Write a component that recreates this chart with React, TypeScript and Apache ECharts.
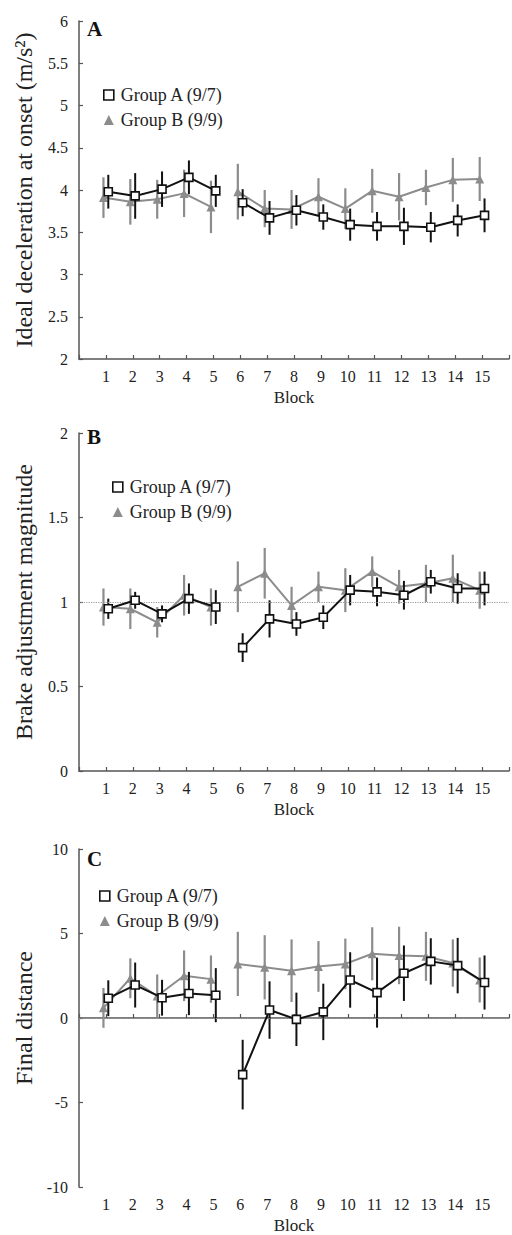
import React, { useEffect, useRef } from "react";
import * as echarts from "echarts";

const blocks = [1, 2, 3, 4, 5, 6, 7, 8, 9, 10, 11, 12, 13, 14, 15];
const sessionBreakAfter = 5;
const groupNames = ["Group A (9/7)", "Group B (9/9)"];

const accelA = [3.98, 3.93, 4.01, 4.15, 3.99, 3.85, 3.67, 3.76, 3.68, 3.59, 3.57, 3.57, 3.56, 3.64, 3.7];
const accelAErr = [0.2, 0.27, 0.21, 0.2, 0.19, 0.16, 0.2, 0.18, 0.15, 0.19, 0.17, 0.22, 0.18, 0.19, 0.2];
const accelB = [3.91, 3.86, 3.89, 3.96, 3.8, 3.98, 3.78, 3.77, 3.92, 3.78, 3.99, 3.92, 4.03, 4.12, 4.13];
const accelBErr = [0.24, 0.27, 0.23, 0.28, 0.31, 0.33, 0.22, 0.23, 0.22, 0.24, 0.26, 0.28, 0.21, 0.26, 0.26];

const brakeA = [0.96, 1.01, 0.93, 1.02, 0.97, 0.73, 0.9, 0.87, 0.91, 1.07, 1.06, 1.04, 1.12, 1.08, 1.08];
const brakeAErr = [0.06, 0.05, 0.05, 0.09, 0.1, 0.085, 0.11, 0.07, 0.07, 0.09, 0.085, 0.085, 0.07, 0.09, 0.1];
const brakeB = [0.97, 0.96, 0.88, 1.04, 0.97, 1.09, 1.17, 0.98, 1.09, 1.07, 1.18, 1.09, 1.11, 1.14, 1.07];
const brakeBErr = [0.11, 0.12, 0.09, 0.12, 0.11, 0.15, 0.15, 0.11, 0.09, 0.13, 0.09, 0.1, 0.11, 0.14, 0.11];

const distA = [1.17, 1.95, 1.2, 1.45, 1.35, -3.35, 0.47, -0.08, 0.36, 2.25, 1.5, 2.65, 3.35, 3.1, 2.1];
const distAErr = [1.06, 1.33, 1.06, 1.28, 1.6, 2.06, 1.7, 1.58, 1.67, 1.64, 2.07, 1.64, 1.37, 1.64, 1.6];
const distB = [0.6, 2.35, 1.3, 2.5, 2.3, 3.2, 3.0, 2.8, 3.05, 3.2, 3.8, 3.7, 3.65, 3.25, 2.25];
const distBErr = [1.18, 1.18, 1.28, 1.5, 1.4, 1.9, 1.9, 1.85, 1.5, 1.5, 1.57, 1.7, 1.45, 1.4, 1.33];

const FONT = "'Liberation Serif', 'Times New Roman', serif";
const BLACK = "#111111";
const GRAY = "#8c8c8c";
const AXIS = "#555555";

const panels = [
  { letter: "A", top: 21, min: 2, max: 6, interval: 0.5, name: "Ideal deceleration at onset (m/s²)", a: accelA, aErr: accelAErr, b: accelB, bErr: accelBErr, ref: null as number | null, legendLeft: 98, legendTop: 80, letterTop: 18 },
  { letter: "B", top: 433, min: 0, max: 2, interval: 0.5, name: "Brake adjustment magnitude", a: brakeA, aErr: brakeAErr, b: brakeB, bErr: brakeBErr, ref: 1, legendLeft: 107, legendTop: 472, letterTop: 426 },
  { letter: "C", top: 849, min: -10, max: 10, interval: 5, name: "Final distance", a: distA, aErr: distAErr, b: distB, bErr: distBErr, ref: 0, legendLeft: 94, legendTop: 881, letterTop: 848 },
];

function lineData(vals: number[], offset: number) {
  const out: any[] = [];
  blocks.forEach((b, i) => {
    out.push([b + offset, vals[i]]);
    if (b === sessionBreakAfter) out.push([b + 0.5, "-"]);
  });
  return out;
}

function errData(vals: number[], errs: number[], offset: number) {
  return blocks.map((b, i) => [b + offset, vals[i] - errs[i], vals[i] + errs[i]]);
}

function errSeries(idx: number, data: any[], color: string, width: number, z: number) {
  return {
    type: "custom",
    xAxisIndex: idx,
    yAxisIndex: idx,
    z,
    silent: true,
    data,
    renderItem: (params: any, api: any) => {
      const p1 = api.coord([api.value(0), api.value(1)]);
      const p2 = api.coord([api.value(0), api.value(2)]);
      return {
        type: "line",
        shape: { x1: p1[0], y1: p1[1], x2: p2[0], y2: p2[1] },
        style: { stroke: color, lineWidth: width },
      };
    },
  };
}

export default function App() {
  const ref = useRef<HTMLDivElement>(null);
  useEffect(() => {
    if (!ref.current) return;
    const chart = echarts.init(ref.current, null, { renderer: "svg" });
    const grid: any[] = [];
    const xAxis: any[] = [];
    const yAxis: any[] = [];
    const series: any[] = [];
    const legend: any[] = [];
    const graphic: any[] = [];
    const offA = 0.09;
    const offB = -0.09;
    panels.forEach((p, idx) => {
      grid.push({ left: 79, right: -2, top: p.top, height: 338 });
      xAxis.push({
        type: "value",
        gridIndex: idx,
        min: 0,
        max: 16,
        interval: 1,
        name: "Block",
        nameLocation: "middle",
        nameGap: 30,
        nameTextStyle: { fontFamily: FONT, fontSize: 17, color: "#222" },
        axisLine: { lineStyle: { color: AXIS, width: 1.5 } },
        axisTick: { inside: true, length: 4, lineStyle: { color: AXIS, width: 1.2 } },
        splitLine: { show: false },
        axisLabel: {
          fontFamily: FONT,
          fontSize: 16,
          color: "#222",
          margin: 9,
          formatter: (v: number) => (v >= 1 && v <= 15 ? String(v) : ""),
        },
      });
      yAxis.push({
        type: "value",
        gridIndex: idx,
        min: p.min,
        max: p.max,
        interval: p.interval,
        name: p.name,
        nameLocation: "middle",
        nameGap: 43,
        nameTextStyle: { fontFamily: FONT, fontSize: 24, color: "#222" },
        axisLine: { show: true, lineStyle: { color: AXIS, width: 1.5 } },
        axisTick: { show: true, inside: true, length: 4, lineStyle: { color: AXIS, width: 1.2 } },
        splitLine: { show: false },
        axisLabel: { fontFamily: FONT, fontSize: 16, color: "#222", margin: 11 },
      });
      series.push(errSeries(idx, errData(p.b, p.bErr, offB), GRAY, 2.2, 2));
      series.push({
        type: "line",
        name: groupNames[1],
        xAxisIndex: idx,
        yAxisIndex: idx,
        z: 3,
        data: lineData(p.b, offB),
        connectNulls: false,
        symbol: "triangle",
        symbolSize: 9,
        lineStyle: { color: GRAY, width: 2 },
        itemStyle: { color: GRAY, borderColor: GRAY, borderWidth: 0 },
        markLine:
          p.ref === null
            ? undefined
            : {
                silent: true,
                symbol: "none",
                label: { show: false },
                lineStyle: { color: "#999", type: "dotted", width: 1.2 },
                data: [{ yAxis: p.ref }],
              },
      });
      series.push(errSeries(idx, errData(p.a, p.aErr, offA), BLACK, 2, 4));
      series.push({
        type: "line",
        name: groupNames[0],
        xAxisIndex: idx,
        yAxisIndex: idx,
        z: 5,
        data: lineData(p.a, offA),
        connectNulls: false,
        symbol: "rect",
        symbolSize: 8,
        lineStyle: { color: BLACK, width: 2 },
        itemStyle: { color: "#ffffff", borderColor: BLACK, borderWidth: 1.6 },
      });
      legend.push({
        left: p.legendLeft,
        top: p.legendTop,
        orient: "vertical",
        itemWidth: 10,
        itemHeight: 10,
        itemGap: 5,
        selectedMode: false,
        textStyle: { fontFamily: FONT, fontSize: 18, color: "#222", lineHeight: 20, padding: [0, 0, 0, 2] },
        data: [
          { name: groupNames[0], icon: "rect", itemStyle: { color: "#ffffff", borderColor: BLACK, borderWidth: 1.6 } },
          { name: groupNames[1], icon: "triangle", itemStyle: { color: GRAY, borderWidth: 0 } },
        ],
      });
      graphic.push({
        type: "text",
        left: 87,
        top: p.letterTop,
        style: { text: p.letter, fontFamily: FONT, fontSize: 21, fontWeight: "bold", fill: "#111" },
      });
    });
    chart.setOption({
      animation: false,
      backgroundColor: "#ffffff",
      grid,
      xAxis,
      yAxis,
      series,
      legend,
      graphic,
    });
    return () => chart.dispose();
  }, []);
  return <div ref={ref} style={{ position: "absolute", left: 0, top: 0, width: 512, height: 1235 }} />;
}
